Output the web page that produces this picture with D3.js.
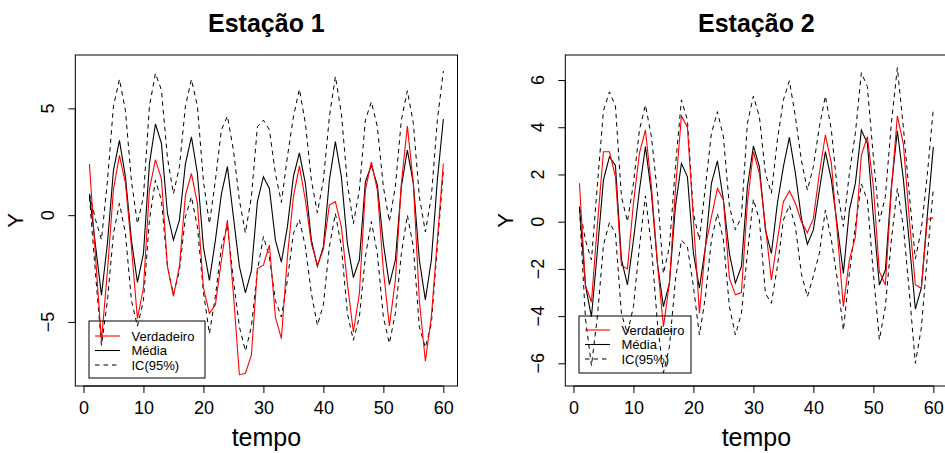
<!DOCTYPE html>
<html>
<head>
<meta charset="utf-8">
<script src="https://cdn.jsdelivr.net/npm/d3@7"></script>
<style>
  html, body { margin: 0; padding: 0; background: #fff; }
  svg { display: block; font-family: "Liberation Sans", Arial, sans-serif; }
</style>
</head>
<body>
<svg id="chart" width="945" height="453"></svg>
<script>
// Time index shared by both stations
const tempo = d3.range(1, 61);

// Estação 1
const verdadeiro1 = [2.39, -1.9, -5.9, -2.6, 1.2, 2.8, 1.5, -1.5, -4.85, -3.4,
  1.2, 2.6, 1.7, -2.4, -3.8, -2.4, 0.94, 1.95, 0.55, -3.4,
  -4.6, -4.2, -2.1, -0.23, -3.7, -7.47, -7.4, -6.56, -2.5, -2.34,
  -1.4, -4.77, -5.78, -1.95, 0.86, 2.3, 0.7, -1.33, -2.34, -1.6,
  0.47, 0.63, -0.55, -3.2, -5.47, -3.67, 1.17, 2.5, 1.17, -2.58,
  -5.19, -3.05, 1.48, 4.17, 1.48, -4.0, -6.83, -4.77, -1.17, 2.42];
const media1 = [0.95, -1.4, -3.75, -1.3, 2.1, 3.5, 1.8, -1.17, -3.15, -1.8,
  2.4, 4.27, 3.36, 0.08, -1.17, -0.23, 2.4, 3.67, 1.95, -1.5,
  -3.05, -1.17, 1.0, 2.27, -0.08, -2.4, -3.64, -2.6, 0.63, 1.8,
  1.25, -1.17, -2.2, -0.55, 1.8, 2.92, 1.48, -1.17, -2.4, -1.48,
  1.64, 3.44, 1.8, -1.33, -2.92, -2.1, 1.56, 2.34, 1.4, -1.33,
  -3.25, -2.1, 1.33, 3.05, 1.48, -2.1, -3.97, -2.1, 1.64, 4.5];
const sup1 = [1.0, -0.2, -1.15, 1.6, 5.1, 6.36, 4.9, 1.6, -0.4, 0.86,
  5.1, 6.64, 5.86, 2.7, 1.0, 2.27, 5.1, 6.36, 5.1, 1.6,
  -0.4, 1.64, 4.0, 4.64, 3.05, 0.7, -0.83, 0.86, 4.14, 4.45,
  4.0, 1.95, 0.6, 2.73, 4.6, 5.9, 4.3, 1.64, 0.11, 1.64,
  4.6, 6.5, 4.77, 1.48, -0.4, 1.17, 4.45, 5.31, 4.14, 1.33,
  -0.3, 1.33, 4.45, 5.83, 4.3, 0.86, -0.78, 0.86, 4.45, 6.75];
const inf1 = [0.85, -2.7, -6.1, -4.0, -0.86, 0.55, -0.86, -4.0, -5.2, -4.0,
  -0.23, 1.64, 0.7, -2.4, -3.7, -2.6, -0.08, 0.86, -0.55, -3.6,
  -5.55, -3.8, -1.48, -0.47, -3.05, -5.23, -6.36, -5.23, -2.6, -1.0,
  -1.95, -4.0, -4.77, -3.05, -0.86, -0.2, -1.48, -3.67, -5.16, -4.2,
  -1.48, 0.08, -1.48, -4.6, -5.86, -4.77, -1.95, -0.3, -1.8, -4.77,
  -6.0, -4.6, -1.8, 0.0, -1.48, -5.23, -6.2, -5.08, -1.48, 2.1];

// Estação 2
const verdadeiro2 = [1.63, -2.7, -3.4, -0.1, 2.96, 2.96, 1.9, -1.85, -2.0, 0.78,
  2.9, 3.88, 1.48, -1.77, -4.45, -2.6, 1.34, 4.48, 4.0, 0.07,
  -3.88, -1.06, 0.2, 1.41, 0.92, -2.4, -3.1, -3.0, 0.78, 2.97,
  2.05, -0.2, -2.47, -0.78, 0.85, 1.3, 0.78, 0.0, -0.47, 0.14,
  2.05, 3.67, 2.47, -0.5, -3.6, -1.62, -0.64, 2.82, 3.6, 1.48,
  -2.12, -2.68, 1.34, 4.48, 3.3, 0.1, -2.67, -2.82, 0.1, 0.16];
const media2 = [0.64, -2.7, -4.03, -1.2, 1.77, 2.75, 2.38, -1.6, -2.68, -0.78,
  1.34, 3.18, 1.2, -1.77, -3.6, -2.6, 0.64, 2.47, 1.9, -1.34,
  -2.82, -1.06, 1.62, 2.58, 0.92, -1.34, -2.6, -1.9, 1.48, 3.2,
  2.33, -0.35, -1.34, 0.78, 2.33, 3.57, 2.05, 0.14, -0.95, -0.35,
  1.34, 2.97, 1.77, -0.2, -2.19, 0.49, 1.62, 3.88, 3.32, 0.2,
  -2.68, -2.05, 1.48, 3.85, 1.8, -0.9, -3.7, -2.8, 0.3, 3.17];
const sup2 = [0.6, -0.78, -1.62, 1.6, 4.7, 5.5, 4.9, 1.06, 0.0, 1.62,
  3.88, 4.94, 3.6, 1.2, -2.2, -1.06, 2.33, 5.16, 4.3, 0.35,
  -0.78, 1.48, 3.74, 4.66, 3.6, 0.64, -0.35, 0.2, 4.17, 5.32,
  4.45, 2.05, 1.2, 3.46, 5.16, 5.97, 4.45, 2.6, 1.34, 2.33,
  4.03, 5.32, 3.88, 1.34, -0.2, 2.05, 3.74, 6.31, 5.72, 2.75,
  0.0, 1.06, 4.17, 6.52, 4.0, 1.15, -1.58, -0.3, 2.0, 4.8];
const inf2 = [0.55, -4.1, -6.1, -4.0, -1.0, -0.03, -0.5, -3.9, -4.73, -3.6,
  -1.06, 1.09, -1.06, -4.3, -6.4, -5.3, -2.47, -0.78, -1.06, -2.75,
  -4.8, -3.18, -0.78, 0.35, -0.78, -3.6, -4.8, -3.88, -1.34, 0.95,
  0.07, -3.04, -3.46, -1.9, 0.07, 0.7, -0.2, -2.2, -3.18, -2.3,
  -1.34, 0.49, -0.78, -2.47, -4.6, -2.19, -0.2, 1.6, 0.92, -2.19,
  -5.0, -3.6, -0.78, 1.41, -0.2, -3.0, -6.0, -4.5, -1.45, 1.4];

// Axis ticks and legend labels
const xTicks = [0, 10, 20, 30, 40, 50, 60];
const yTicks1 = [-5, 0, 5];
const yTicks2 = [-6, -4, -2, 0, 2, 4, 6];
const legendLabels = ["Verdadeiro", "Média", "IC(95%)"];

const svg = d3.select("#chart");
const fmt = v => (v < 0 ? "\u2212" + Math.abs(v) : String(v));

function panel(opts) {
  const { title, left, right, top, bottom, xDom, yDom, yTicks,
          verd, media, sup, inf, legend } = opts;
  const x = d3.scaleLinear().domain(xDom).range([left, right]);
  const y = d3.scaleLinear().domain(yDom).range([bottom, top]);
  const g = svg.append("g");

  const line = vals => d3.line()
    .x((d, i) => x(tempo[i]))
    .y(d => y(d))(vals);

  const clipId = "clip" + Math.round(left);
  svg.append("clipPath").attr("id", clipId)
    .append("rect").attr("x", left).attr("y", top)
    .attr("width", right - left).attr("height", bottom - top);

  const plot = g.append("g").attr("clip-path", `url(#${clipId})`);
  [sup, inf].forEach(s => plot.append("path")
    .attr("d", line(s)).attr("fill", "none")
    .attr("stroke", "#000").attr("stroke-width", 1)
    .attr("stroke-dasharray", "4.5,4"));
  plot.append("path").attr("d", line(media)).attr("fill", "none")
    .attr("stroke", "#000").attr("stroke-width", 1.1);
  plot.append("path").attr("d", line(verd)).attr("fill", "none")
    .attr("stroke", "#ff0000").attr("stroke-width", 1.1);

  // frame
  g.append("rect").attr("x", left).attr("y", top)
    .attr("width", right - left).attr("height", bottom - top)
    .attr("fill", "none").attr("stroke", "#000").attr("stroke-width", 1);

  // x axis
  const xAxis = g.append("g").attr("transform", `translate(0,${bottom})`)
    .call(d3.axisBottom(x).tickValues(xTicks).tickSize(7).tickPadding(8).tickFormat(d3.format("d")));
  xAxis.select(".domain").attr("d", `M${x(xTicks[0])},0H${x(xTicks[xTicks.length - 1])}`);
  xAxis.selectAll("text").attr("font-size", 18).attr("font-family", "Liberation Sans, Arial, sans-serif").attr("fill", "#000");

  // y axis
  const yAxis = g.append("g").attr("transform", `translate(${left},0)`)
    .call(d3.axisLeft(y).tickValues(yTicks).tickSize(7).tickFormat(() => ""));
  yAxis.select(".domain").attr("d", `M0,${y(yTicks[0])}V${y(yTicks[yTicks.length - 1])}`);
  yTicks.forEach(v => {
    g.append("text")
      .attr("transform", `translate(${left - 21},${y(v)}) rotate(-90)`)
      .attr("text-anchor", "middle")
      .attr("font-size", 18).text(fmt(v));
  });

  // titles
  const cx = (left + right) / 2;
  g.append("text").attr("x", cx).attr("y", 32).attr("text-anchor", "middle")
    .attr("font-size", 25).attr("font-weight", "bold").text(title);
  g.append("text").attr("x", cx).attr("y", 446).attr("text-anchor", "middle")
    .attr("font-size", 25).text("tempo");
  g.append("text")
    .attr("transform", `translate(${left - 52},${(top + bottom) / 2}) rotate(-90)`)
    .attr("text-anchor", "middle").attr("font-size", 22).text("Y");

  // legend (transparent background, as the series show through it)
  const L = legend;
  const lg = g.append("g");
  lg.append("rect").attr("x", L.x).attr("y", L.y).attr("width", L.w).attr("height", L.h)
    .attr("fill", "none").attr("stroke", "#000").attr("stroke-width", 1);
  const styles = [
    { stroke: "#ff0000", dash: null },
    { stroke: "#000", dash: null },
    { stroke: "#000", dash: "4.5,4" }
  ];
  legendLabels.forEach((lab, i) => {
    const ry = L.y + L.row0 + i * L.dy;
    lg.append("line").attr("x1", L.x + 6).attr("x2", L.x + 31)
      .attr("y1", ry).attr("y2", ry)
      .attr("stroke", styles[i].stroke).attr("stroke-width", 1.1)
      .attr("stroke-dasharray", styles[i].dash);
    lg.append("text").attr("x", L.x + 42.5).attr("y", ry + 4.6)
      .attr("font-size", 13).text(lab);
  });
}

panel({
  title: "Estação 1", left: 75.3, right: 457.5, top: 55, bottom: 386,
  xDom: [-1.36, 62.36], yDom: [-8.0, 7.5], yTicks: yTicks1,
  verd: verdadeiro1, media: media1, sup: sup1, inf: inf1,
  legend: { x: 89, y: 321, w: 116, h: 57, row0: 15, dy: 14.5 }
});
panel({
  title: "Estação 2", left: 565.3, right: 947.5, top: 55, bottom: 386,
  xDom: [-1.36, 62.36], yDom: [-6.96, 7.06], yTicks: yTicks2,
  verd: verdadeiro2, media: media2, sup: sup2, inf: inf2,
  legend: { x: 579, y: 316, w: 112, h: 57, row0: 14, dy: 14.5 }
});
</script>
</body>
</html>
